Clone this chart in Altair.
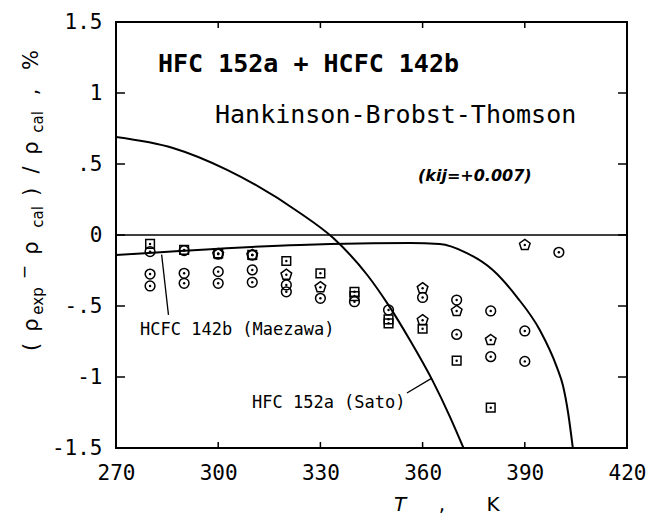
import altair as alt
import pandas as pd

# Calculated deviation curves (T in K, deviation in %)
sato_T = [270, 286.7, 302.6, 324, 333.7, 343.7, 349.8, 356.3, 363.0, 368.0, 372.0]
sato_dev = [0.69, 0.613, 0.459, 0.155, -0.02, -0.28, -0.487, -0.741, -1.029, -1.279, -1.5]
maez_T = [270, 324, 356.3, 365, 373.0, 380.6, 387.7, 394.4, 399.4, 401.2, 402.7, 404.1]
maez_dev = [-0.141, -0.070, -0.056, -0.063, -0.127, -0.246, -0.437, -0.669, -0.93, -1.06, -1.25, -1.5]

# Experimental deviations of the mixture
circle_T = [280, 280, 280, 290, 290, 290, 300, 300, 300, 310, 310, 310, 320, 320, 330,
            340, 350, 360, 370, 370, 380, 380, 390, 390, 400]
circle_dev = [-0.117, -0.275, -0.359, -0.11, -0.27, -0.34, -0.134, -0.258, -0.34, -0.141, -0.246, -0.333,
              -0.352, -0.40, -0.446, -0.47, -0.528, -0.44, -0.458, -0.70, -0.535, -0.857, -0.676, -0.89, -0.122]
pent_T = [300, 310, 320, 330, 360, 360, 370, 380, 390]
pent_dev = [-0.134, -0.141, -0.28, -0.368, -0.375, -0.60, -0.535, -0.74, -0.07]
square_T = [280, 290, 300, 310, 320, 330, 340, 340, 350, 350, 360, 370, 380]
square_dev = [-0.063, -0.105, -0.13, -0.14, -0.183, -0.27, -0.40, -0.43, -0.594, -0.622, -0.66, -0.885, -1.216]

# Leader lines from the curve labels to their curves
lead_maez_T = [283.4, 285.4]
lead_maez_dev = [-0.138, -0.563]
lead_sato_T = [355.4, 362.6]
lead_sato_dev = [-1.113, -1.01]

x_ticks = [270, 300, 330, 360, 390, 420]
x_inner_ticks = [300, 330, 360, 390]
y_ticks = [-1.5, -1.0, -0.5, 0.0, 0.5, 1.0, 1.5]
y_labels = ["-1.5", "-1", "-.5", "0", ".5", "1", "1.5"]
y_inner_ticks = [-1.0, -0.5, 0.0, 0.5, 1.0]

W, H = 511, 426
MONO = "DejaVu Sans Mono"
SANS = "DejaVu Sans"

y_label_expr = " : ".join(
    f"datum.value == {v} ? '{s}'" for v, s in zip(y_ticks, y_labels)
) + " : ''"

xs = alt.Scale(domain=[270, 420], nice=False, zero=False)
ys = alt.Scale(domain=[-1.5, 1.5], nice=False, zero=False)

x_axis = alt.Axis(values=x_ticks, format="d", labelFont=MONO, labelFontSize=21,
                  labelColor="black", labelPadding=14, domain=False, ticks=False,
                  grid=False, title=None, labelFlush=False)
y_axis = alt.Axis(values=y_ticks, labelExpr=y_label_expr, labelFont=MONO, labelFontSize=21,
                  labelColor="black", labelPadding=14, domain=False, ticks=False,
                  grid=False, title=None, labelFlush=False)


def line_df(ts, vs):
    return pd.DataFrame({"T": ts, "dev": vs})


def curve(ts, vs, width=2.0):
    return alt.Chart(line_df(ts, vs)).mark_line(
        color="black", strokeWidth=width, interpolate="monotone", clip=True
    ).encode(x=alt.X("T:Q", scale=xs, axis=x_axis), y=alt.Y("dev:Q", scale=ys, axis=y_axis))


def markers(ts, vs, shape, size):
    return alt.Chart(line_df(ts, vs)).mark_point(
        shape=shape, size=size, filled=False, color="black", strokeWidth=1.5, opacity=1
    ).encode(x=alt.X("T:Q", scale=xs), y=alt.Y("dev:Q", scale=ys))


def label(text, x, y, font=SANS, size=17, weight="normal", style="normal",
          align="left", baseline="alphabetic", angle=0):
    return alt.Chart(alt.Data(values=[{}])).mark_text(
        text=text, font=font, fontSize=size, fontWeight=weight, fontStyle=style,
        align=align, baseline=baseline, angle=angle, color="black"
    ).encode(x=alt.value(x), y=alt.value(y))


zero_line = alt.Chart(line_df([270, 420], [0, 0])).mark_line(
    color="black", strokeWidth=1.5
).encode(x=alt.X("T:Q", scale=xs), y=alt.Y("dev:Q", scale=ys))

sato = curve(sato_T, sato_dev)
maez = curve(maez_T, maez_dev)
lead1 = curve(lead_maez_T, lead_maez_dev, 1.3)
lead2 = curve(lead_sato_T, lead_sato_dev, 1.3)

pentagon = "M0,-1L0.951,-0.309L0.588,0.809L-0.588,0.809L-0.951,-0.309Z"
circ = markers(circle_T, circle_dev, "circle", 95)
pent = markers(pent_T, pent_dev, pentagon, 125)
sq = markers(square_T, square_dev, "square", 75)

all_T = circle_T + pent_T + square_T
all_dev = circle_dev + pent_dev + square_dev
dots = alt.Chart(line_df(all_T, all_dev)).mark_circle(
    size=6, color="black", opacity=1
).encode(x=alt.X("T:Q", scale=xs), y=alt.Y("dev:Q", scale=ys))

# inward tick marks on all four sides
xt = pd.DataFrame({"T": x_inner_ticks})
yt = pd.DataFrame({"dev": y_inner_ticks})
tick_bottom = alt.Chart(xt).mark_rule(color="black", strokeWidth=1.5).encode(
    x=alt.X("T:Q", scale=xs), y=alt.value(H), y2=alt.value(H - 6))
tick_top = alt.Chart(xt).mark_rule(color="black", strokeWidth=1.5).encode(
    x=alt.X("T:Q", scale=xs), y=alt.value(0), y2=alt.value(6))
tick_left = alt.Chart(yt).mark_rule(color="black", strokeWidth=1.5).encode(
    y=alt.Y("dev:Q", scale=ys), x=alt.value(0), x2=alt.value(9))
tick_right = alt.Chart(yt).mark_rule(color="black", strokeWidth=1.5).encode(
    y=alt.Y("dev:Q", scale=ys), x=alt.value(W), x2=alt.value(W - 9))

texts = [
    label("HFC 152a + HCFC 142b", 42, 50, font=MONO, size=25, weight="bold"),
    label("Hankinson-Brobst-Thomson", 99, 101, font=MONO, size=25),
    label("(kij=+0.007)", 302, 159, font=SANS, size=16, weight="bold", style="italic"),
    label("HCFC 142b (Maezawa)", 24, 308, font=MONO, size=17, baseline="middle"),
    label("HFC 152a (Sato)", 136, 381, font=MONO, size=17, baseline="middle"),
    # x-axis title
    label("T", 284, 483, size=20, style="italic", align="center", baseline="middle"),
    label(",", 326, 483, size=20, align="center", baseline="middle"),
    label("K", 377, 483, size=20, align="center", baseline="middle"),
]

# y-axis title, rotated, with subscripts
bx = -78
ytitle = [
    ("(", bx, 325, 21), ("ρ", bx, 303, 21), ("exp", bx + 5, 279, 15),
    ("−", bx - 8, 250, 17), ("ρ", bx, 226, 21), ("cal", bx + 5, 195, 15),
    (")", bx, 170, 21), ("/", bx, 148, 21), ("ρ", bx, 126, 21),
    ("cal", bx + 5, 100, 15), (",", bx, 70, 21), ("%", bx, 38, 21),
]
for t, x, y, s in ytitle:
    texts.append(label(t, x, y, size=s, align="center", angle=270))

chart = alt.layer(
    zero_line, sato, maez, lead1, lead2, circ, pent, sq, dots,
    tick_bottom, tick_top, tick_left, tick_right, *texts
).properties(
    width=W, height=H,
    autosize=alt.AutoSizeParams(type="none"),
    padding={"left": 116, "top": 22, "right": 22, "bottom": 80},
    background="white",
).configure_view(stroke="black", strokeWidth=2)

chart.save("out.html", embed_options={"renderer": "svg", "actions": False})
